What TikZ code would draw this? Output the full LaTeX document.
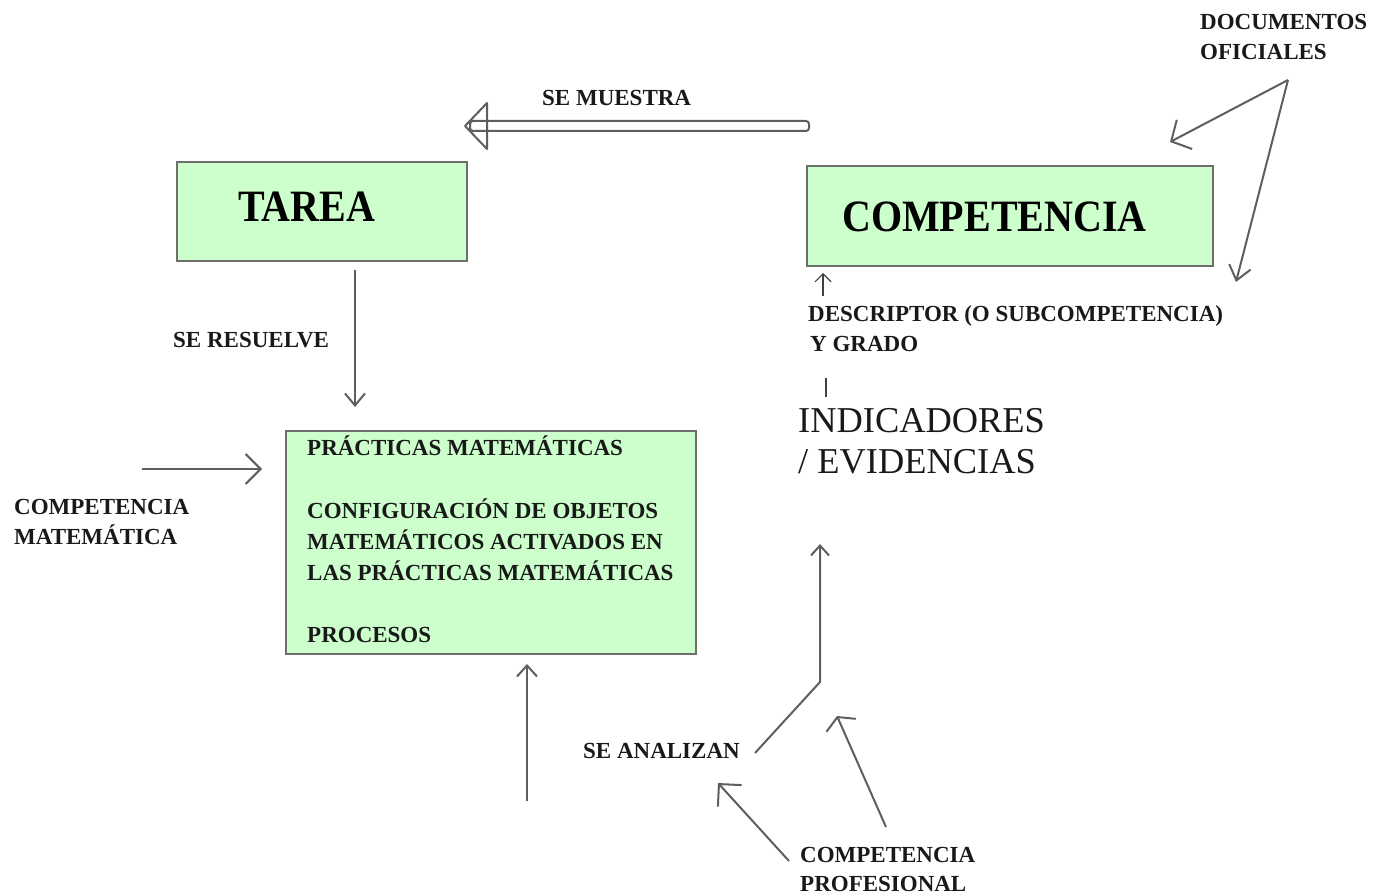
\documentclass[tikz,border=0pt]{standalone}
\usepackage{fontspec}
\setmainfont{Liberation Serif}
\usetikzlibrary{arrows.meta,calc}
\definecolor{boxfill}{HTML}{CCFFCC}
\definecolor{linegray}{HTML}{5E5E5E}
\definecolor{boxline}{HTML}{6E6E6E}
\begin{document}
\begin{tikzpicture}[x=1pt,y=-1pt,
  lbl/.style={anchor=base west, inner sep=0pt, font=\fontsize{23}{28}\selectfont\bfseries, text=black!90},
  bigttl/.style={anchor=base west, inner sep=0pt, font=\fontsize{40}{48}\selectfont\bfseries, yscale=1.12},
  indic/.style={anchor=base west, inner sep=0pt, font=\fontsize{36.4}{42}\selectfont, text=black!90},
  greenbox/.style={draw=boxline, fill=boxfill, line width=2pt, anchor=north west, inner sep=0pt},
  conn/.style={draw=linegray, line width=2pt},
  thin/.style={draw=black!75, line width=1.1pt},
  hollow/.style={draw=linegray, line width=2pt, line join=round},
]
\useasboundingbox (0,0) rectangle (1377,896);

% boxes
\node[greenbox, minimum width=290pt, minimum height=99pt] (tarea) at (176,161) {};
\node[greenbox, minimum width=406pt, minimum height=100pt] (comp) at (806,165) {};
\node[greenbox, minimum width=410pt, minimum height=223pt] (prac) at (285,430) {};

% box texts
\node[bigttl] (tareatxt) at (238,222) {TAREA};
\node[bigttl] (comptxt) at (842,232) {COMPETENCIA};
\node[lbl] (p1) at (307,455) {PRÁCTICAS MATEMÁTICAS};
\node[lbl] (p2) at (307,518) {CONFIGURACIÓN DE OBJETOS};
\node[lbl] (p3) at (307,549) {MATEMÁTICOS ACTIVADOS EN};
\node[lbl] (p4) at (307,580) {LAS PRÁCTICAS MATEMÁTICAS};
\node[lbl] (p5) at (307,642) {PROCESOS};

% labels
\node[lbl] (muestra) at (542,106) {SE MUESTRA};
\node[lbl] (doc1) at (1200,30) {DOCUMENTOS};
\node[lbl] (doc2) at (1200,60) {OFICIALES};
\node[lbl] (resuelve) at (173,348) {SE RESUELVE};
\node[lbl] (cm1) at (14,514) {COMPETENCIA};
\node[lbl] (cm2) at (14,544) {MATEMÁTICA};
\node[lbl] (desc1) at (808,321) {DESCRIPTOR (O SUBCOMPETENCIA)};
\node[lbl] (desc2) at (810,351) {Y GRADO};
\node[indic] (ind1) at (798,432) {INDICADORES};
\node[indic] (ind2) at (798,473) {/ EVIDENCIAS};
\node[lbl] (analizan) at (583,758) {SE ANALIZAN};
\node[lbl] (cp1) at (800,862) {COMPETENCIA};
\node[lbl] (cp2) at (800,891) {PROFESIONAL};

% coordinates for free connector ends
\coordinate (mS) at (809,126);
\coordinate (mE) at (465,126);
\coordinate (docS) at (1288,80);
\coordinate (docA) at (1170,142);
\coordinate (docB) at (1236,282);
\coordinate (tA) at (355,270);
\coordinate (tB) at (355,407);
\coordinate (cmA) at (142,469);
\coordinate (cmB) at (262,469);
\coordinate (botA) at (527,801);
\coordinate (botB) at (527,664);
\coordinate (descA) at (823,296);
\coordinate (descB) at (823,273);
\coordinate (tickA) at (826,378);
\coordinate (tickB) at (826,397);
\coordinate (anA) at (755,753);
\coordinate (anK) at (820,682);
\coordinate (anB) at (820,544);
\coordinate (cpA) at (789,861);
\coordinate (cpB) at (718,783);
\coordinate (cpC) at (886,827);
\coordinate (cpD) at (837,716);

% hollow block arrow (SE MUESTRA)
\draw[hollow, rounded corners=3pt] ($(mE)+(5,-5)$) rectangle ($(mS)+(0,5)$);
\draw[hollow] (mE) -- ($(mE)+(22,-23)$) -- ($(mE)+(22,23)$) -- cycle;

% connectors
\draw[conn, -{Straight Barb[length=15pt,width=33pt]}] (docS) -- (docA);
\draw[conn, -{Straight Barb[length=14pt,width=22pt]}] (docS) -- (docB);
\draw[conn, -{Straight Barb[length=12pt,width=20pt]}] (tA) -- (tB);
\draw[conn, -{Straight Barb[length=15pt,width=30pt]}] (cmA) -- (cmB);
\draw[conn, -{Straight Barb[length=11pt,width=20pt]}] (botA) -- (botB);
\draw[thin, -{Straight Barb[length=8pt,width=16pt]}] (descA) -- (descB);
\draw[thin] (tickA) -- (tickB);
\draw[conn, -{Straight Barb[length=10pt,width=18pt]}] (anA) -- (anK) -- (anB);
\draw[conn, -{Straight Barb[length=16pt,width=32pt]}] (cpA) -- (cpB);
\draw[conn, -{Straight Barb[length=9pt,width=32pt]}] (cpC) -- (cpD);
\end{tikzpicture}
\end{document}
